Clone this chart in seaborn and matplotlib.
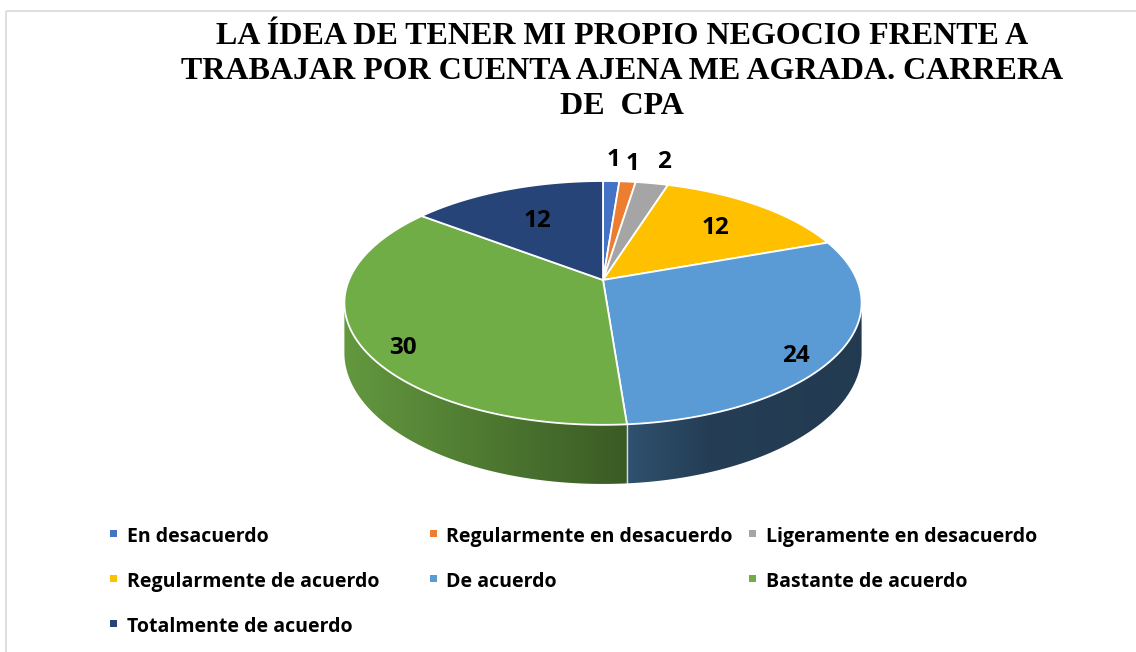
import numpy as np
import matplotlib
matplotlib.use("Agg")
import matplotlib.pyplot as plt
from matplotlib.patches import Polygon, Rectangle
from matplotlib.colors import to_rgb
import seaborn as sns

sns.set_style("white")

# ---------------------------------------------------------------- data
categories = ["En desacuerdo", "Regularmente en desacuerdo", "Ligeramente en desacuerdo",
              "Regularmente de acuerdo", "De acuerdo", "Bastante de acuerdo",
              "Totalmente de acuerdo"]
values = [1, 1, 2, 12, 24, 30, 12]
colors = sns.color_palette(["#4472C4", "#ED7D31", "#A5A5A5", "#FFC000",
                            "#5B9BD5", "#70AD47", "#264478"])
title_lines = ["LA ÍDEA DE TENER MI PROPIO NEGOCIO FRENTE A",
               "TRABAJAR POR CUENTA AJENA ME AGRADA. CARRERA",
               "DE  CPA"]

# label placement (radius in pie units, lift into the side wall)
label_r = [1.3, 1.25, 1.3, 0.7, 0.83, 0.83, 0.65]
label_z = [0, 0, 0, 0, 0.3, 0.3, 0]

SANS = ["Open Sans", "DejaVu Sans"]

# ---------------------------------------------------------------- 3d pie geometry (pixels)
CX, CY = 603, 280      # pie centre
A, B = 254, 117.6      # half axes
P = 0.188              # perspective
D = 48                 # thickness


def proj(theta, r=1.0, z=0.0):
    # theta measured clockwise from 12 o'clock
    u = r * np.sin(theta)
    v = r * np.cos(theta)
    s = 1.0 / (1.0 + P * v)
    return CX + A * u * s, CY - B * v * s + D * z * s


fig = plt.figure(figsize=(11.36, 6.52), dpi=100)
ax = fig.add_axes([0, 0, 1, 1])
ax.set_xlim(0, 1136)
ax.set_ylim(652, 0)
ax.axis("off")

ax.add_patch(Rectangle((6, 11), 1300, 800, fill=False, ec="#d9d9d9", lw=1.2))

bounds = np.concatenate([[0], np.cumsum(values)]) / sum(values) * 2 * np.pi

# side walls, only the front part is visible, shaded left to right
th_lo = np.arccos(-P)
th_hi = 2 * np.pi - th_lo
x_left = proj(th_hi)[0]
x_right = proj(th_lo)[0]
xs_grad = np.linspace(x_left, x_right, 400)
shade = np.interp((xs_grad - x_left) / (x_right - x_left),
                  [0, 0.55, 0.7, 1], [0.88, 0.52, 0.40, 0.38])
for i, c in enumerate(colors):
    a0 = max(bounds[i], th_lo)
    a1 = min(bounds[i + 1], th_hi)
    if a1 <= a0:
        continue
    ts = np.linspace(a0, a1, 200)
    xt, yt = proj(ts)
    xb, yb = proj(ts, z=1)
    pts = list(zip(xt, yt)) + list(zip(xb[::-1], yb[::-1]))
    wall = Polygon(pts, closed=True, fc="none", ec="none")
    ax.add_patch(wall)
    grad = np.array(to_rgb(c))[None, None, :] * shade[None, :, None]
    im = ax.imshow(grad, extent=(x_left, x_right, yb.max() + 2, yt.min() - 2),
                   aspect="auto", interpolation="bilinear", zorder=1)
    im.set_clip_path(wall)

for b in bounds:
    if th_lo < b < th_hi:
        x0, y0 = proj(b)
        _, y1 = proj(b, z=1)
        ax.plot([x0, x0], [y0, y1], color="white", lw=1.0, alpha=0.8, zorder=2)

# top faces
for i, c in enumerate(colors):
    ts = np.linspace(bounds[i], bounds[i + 1], 200)
    xs, ys = proj(ts)
    pts = [(CX, CY)] + list(zip(xs, ys))
    ax.add_patch(Polygon(pts, closed=True, fc=c, ec="white", lw=1.3,
                         joinstyle="round", zorder=3))

# data labels
for i, val in enumerate(values):
    mid = (bounds[i] + bounds[i + 1]) / 2
    lx, ly = proj(mid, r=label_r[i], z=label_z[i])
    ax.text(lx, ly + 8.5, str(val), ha="center", va="baseline",
            fontsize=17.5, fontweight="bold", family=SANS, color="black", zorder=4)

# title
for j, line in enumerate(title_lines):
    ax.text(622, 44 + j * 35, line, ha="center", va="baseline", fontsize=23,
            fontweight="bold", family=["Liberation Serif", "DejaVu Serif"],
            color="black")

# legend, three columns row by row
for i, (name, c) in enumerate(zip(categories, colors)):
    row, col = divmod(i, 3)
    mx = 110 + col * 319.5
    base = 542 + row * 45
    ax.add_patch(Rectangle((mx, base - 12), 7, 7, fc=c, ec="none"))
    ax.text(mx + 17, base, name, ha="left", va="baseline", fontsize=14,
            fontweight="bold", family=SANS, color="black")

fig.savefig("out.png", dpi=100)
